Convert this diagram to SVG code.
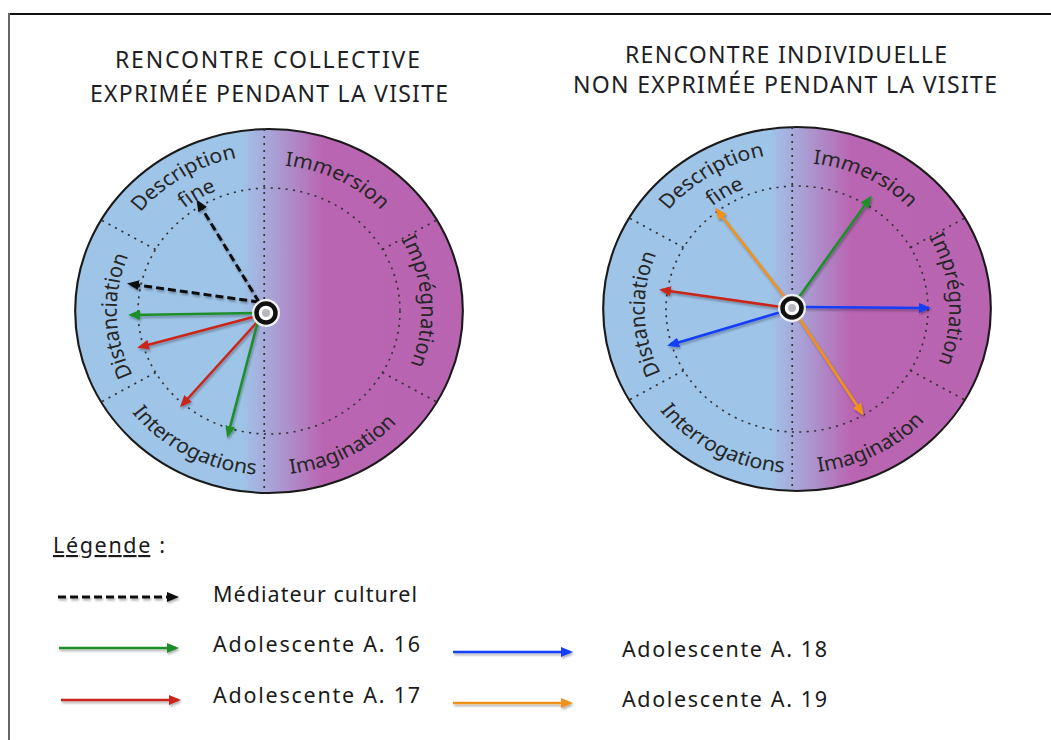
<svg xmlns="http://www.w3.org/2000/svg" width="1051" height="740" viewBox="0 0 1051 740">
<style>
.title{font-family:"Noto Sans","Liberation Sans",sans-serif;font-size:23px;fill:#1e1e26}
.lbl{font-family:"Noto Sans","Liberation Sans",sans-serif;font-size:20px;fill:#262626}
.leg{font-family:"Noto Sans","Liberation Sans",sans-serif;font-size:21.5px;fill:#1a1a1a}
.dot{fill:none;stroke:#333;stroke-width:1.6;stroke-dasharray:2 5}
.rim{stroke:#1a1a1a;stroke-width:2}
.a{fill:none;stroke-width:2.6}
.dash{fill:none;stroke:#111;stroke-width:3;stroke-dasharray:8 4}
</style>
<defs>
<linearGradient id="halves" x1="0" y1="0" x2="1" y2="0">
<stop offset="0" stop-color="#9ec4e8"/>
<stop offset="0.43" stop-color="#9ec4e8"/>
<stop offset="0.53" stop-color="#ab98d0"/>
<stop offset="0.64" stop-color="#b965b2"/>
<stop offset="1" stop-color="#b964b0"/>
</linearGradient>
<filter id="sh" x="-10%" y="-10%" width="120%" height="130%">
<feDropShadow dx="1" dy="2" stdDeviation="1.2" flood-color="#000" flood-opacity="0.3"/>
</filter>
<marker id="mk" markerUnits="userSpaceOnUse" markerWidth="12" markerHeight="10" refX="9" refY="5" orient="auto"><path d="M0,0 L12,5 L0,10 Z" fill="#111"/></marker>
<marker id="mg" markerUnits="userSpaceOnUse" markerWidth="12" markerHeight="10" refX="9" refY="5" orient="auto"><path d="M0,0 L12,5 L0,10 Z" fill="#1f8f2a"/></marker>
<marker id="mr" markerUnits="userSpaceOnUse" markerWidth="12" markerHeight="10" refX="9" refY="5" orient="auto"><path d="M0,0 L12,5 L0,10 Z" fill="#c8281a"/></marker>
<marker id="mb" markerUnits="userSpaceOnUse" markerWidth="12" markerHeight="10" refX="9" refY="5" orient="auto"><path d="M0,0 L12,5 L0,10 Z" fill="#163cf8"/></marker>
<marker id="mo" markerUnits="userSpaceOnUse" markerWidth="12" markerHeight="10" refX="9" refY="5" orient="auto"><path d="M0,0 L12,5 L0,10 Z" fill="#f0911e"/></marker>
<path id="p-desc" d="M-153.1,29.8 A156,156 0 0 1 98.2,-121.2"/>
<path id="p-fine" d="M-128,22.6 A130,130 0 0 1 83.6,-99.6"/>
<path id="p-imm" d="M-101.4,-105 A146,146 0 0 1 145.2,15.3"/>
<path id="p-dist" d="M-44.2,136 A143,143 0 0 1 -53.6,-132.6"/>
<path id="p-impr" d="M39.4,-137.5 A143,143 0 0 1 58.2,130.6"/>
<path id="p-inter" d="M-162.4,-22.8 A164,164 0 0 0 109.7,121.9"/>
<path id="p-imag" d="M-111.8,119.9 A164,164 0 0 0 162.8,-20"/>
</defs>

<rect width="1051" height="740" fill="#fff"/>
<g id="frame">
<line x1="9" y1="14" x2="1051" y2="14" stroke="#111" stroke-width="2"/>
<line x1="9" y1="13" x2="9" y2="740" stroke="#666" stroke-width="2"/>
</g>

<g id="title-left">
<text class="title" x="267.5" y="68" text-anchor="middle" textLength="305">RENCONTRE COLLECTIVE</text>
<text class="title" x="269" y="102" text-anchor="middle" textLength="358">EXPRIMÉE PENDANT LA VISITE</text>
</g>
<g id="title-right">
<text class="title" x="786" y="63" text-anchor="middle" textLength="322">RENCONTRE INDIVIDUELLE</text>
<text class="title" x="785" y="93" text-anchor="middle" textLength="424">NON EXPRIMÉE PENDANT LA VISITE</text>
</g>

<g id="chart-collective" transform="translate(269,311) scale(1.065,1)">
<circle r="182" class="rim" fill="url(#halves)"/>
<circle r="123" class="dot"/>
<line class="dot" x1="-4.5" y1="-182" x2="-4.5" y2="182"/>
<path class="dot" d="M106.5,-61.5 L157.6,-91 M-106.5,-61.5 L-157.6,-91 M-106.5,61.5 L-157.6,91 M106.5,61.5 L157.6,91"/>
<text class="lbl"><textPath href="#p-desc" startOffset="50%" text-anchor="middle">Description</textPath></text>
<text class="lbl"><textPath href="#p-fine" startOffset="50%" text-anchor="middle">fine</textPath></text>
<text class="lbl"><textPath href="#p-imm" startOffset="50%" text-anchor="middle">Immersion</textPath></text>
<text class="lbl"><textPath href="#p-dist" startOffset="50%" text-anchor="middle">Distanciation</textPath></text>
<text class="lbl"><textPath href="#p-impr" startOffset="50%" text-anchor="middle">Imprégnation</textPath></text>
<text class="lbl"><textPath href="#p-inter" startOffset="50%" text-anchor="middle">Interrogations</textPath></text>
<text class="lbl"><textPath href="#p-imag" startOffset="50%" text-anchor="middle">Imagination</textPath></text>
</g>

<g id="chart-individuelle" transform="translate(797,309) scale(1.065,1)">
<circle r="182" class="rim" fill="url(#halves)"/>
<circle r="123" class="dot"/>
<line class="dot" x1="-4.5" y1="-182" x2="-4.5" y2="182"/>
<path class="dot" d="M106.5,-61.5 L157.6,-91 M-106.5,-61.5 L-157.6,-91 M-106.5,61.5 L-157.6,91 M106.5,61.5 L157.6,91"/>
<text class="lbl"><textPath href="#p-desc" startOffset="50%" text-anchor="middle">Description</textPath></text>
<text class="lbl"><textPath href="#p-fine" startOffset="50%" text-anchor="middle">fine</textPath></text>
<text class="lbl"><textPath href="#p-imm" startOffset="50%" text-anchor="middle">Immersion</textPath></text>
<text class="lbl"><textPath href="#p-dist" startOffset="50%" text-anchor="middle">Distanciation</textPath></text>
<text class="lbl"><textPath href="#p-impr" startOffset="50%" text-anchor="middle">Imprégnation</textPath></text>
<text class="lbl"><textPath href="#p-inter" startOffset="50%" text-anchor="middle">Interrogations</textPath></text>
<text class="lbl"><textPath href="#p-imag" startOffset="50%" text-anchor="middle">Imagination</textPath></text>
</g>

<g id="connectors" filter="url(#sh)">
<path class="dash" d="M259,302 L198,202" marker-end="url(#mk)"/>
<path class="dash" d="M259,302 L130,284" marker-end="url(#mk)"/>
<path class="a" stroke="#1f8f2a" d="M255,313 L131,315" marker-end="url(#mg)"/>
<path class="a" stroke="#c8281a" d="M257,316 L140,347" marker-end="url(#mr)"/>
<path class="a" stroke="#c8281a" d="M259,320 L182,405" marker-end="url(#mr)"/>
<path class="a" stroke="#1f8f2a" d="M258,321 L228,435" marker-end="url(#mg)"/>

<path class="a" stroke="#f0911e" d="M787,300 L717,210" marker-end="url(#mo)"/>
<path class="a" stroke="#1f8f2a" d="M797,300 L870,198" marker-end="url(#mg)"/>
<path class="a" stroke="#c8281a" d="M781,307 L662,290" marker-end="url(#mr)"/>
<path class="a" stroke="#163cf8" d="M803,307 L928,308" marker-end="url(#mb)"/>
<path class="a" stroke="#163cf8" d="M781,312 L670,345" marker-end="url(#mb)"/>
<path class="a" stroke="#f0911e" d="M799,318 L862,413" marker-end="url(#mo)"/>
</g>

<g id="hub-left">
<circle cx="266" cy="313" r="14" fill="#fff" opacity="0.85"/>
<circle cx="266" cy="313" r="9.5" fill="#fff" stroke="#111" stroke-width="4.5"/>
<circle cx="266" cy="313" r="4" fill="#b8b8c0"/>
</g>
<g id="hub-right">
<circle cx="792" cy="308" r="14" fill="#fff" opacity="0.85"/>
<circle cx="792" cy="308" r="9.5" fill="#fff" stroke="#111" stroke-width="4.5"/>
<circle cx="792" cy="308" r="4" fill="#b8b8c0"/>
</g>

<g id="legend">
<text class="leg" x="53" y="553" textLength="112"><tspan style="text-decoration:underline">Légende</tspan> :</text>
<g filter="url(#sh)">
<path class="dash" d="M58,597 L176,597" marker-end="url(#mk)"/>
<path class="a" stroke="#1f8f2a" d="M59,648 L176,648" marker-end="url(#mg)"/>
<path class="a" stroke="#c8281a" d="M61,700 L178,700" marker-end="url(#mr)"/>
<path class="a" stroke="#163cf8" d="M453,652 L570,652" marker-end="url(#mb)"/>
<path class="a" stroke="#f0911e" d="M453,703 L570,703" marker-end="url(#mo)"/>
</g>
<text class="leg" x="213" y="602" textLength="204">Médiateur culturel</text>
<text class="leg" x="213" y="652" textLength="207">Adolescente A. 16</text>
<text class="leg" x="213" y="703" textLength="207">Adolescente A. 17</text>
<text class="leg" x="622" y="657" textLength="205">Adolescente A. 18</text>
<text class="leg" x="622" y="707" textLength="205">Adolescente A. 19</text>
</g>
</svg>
